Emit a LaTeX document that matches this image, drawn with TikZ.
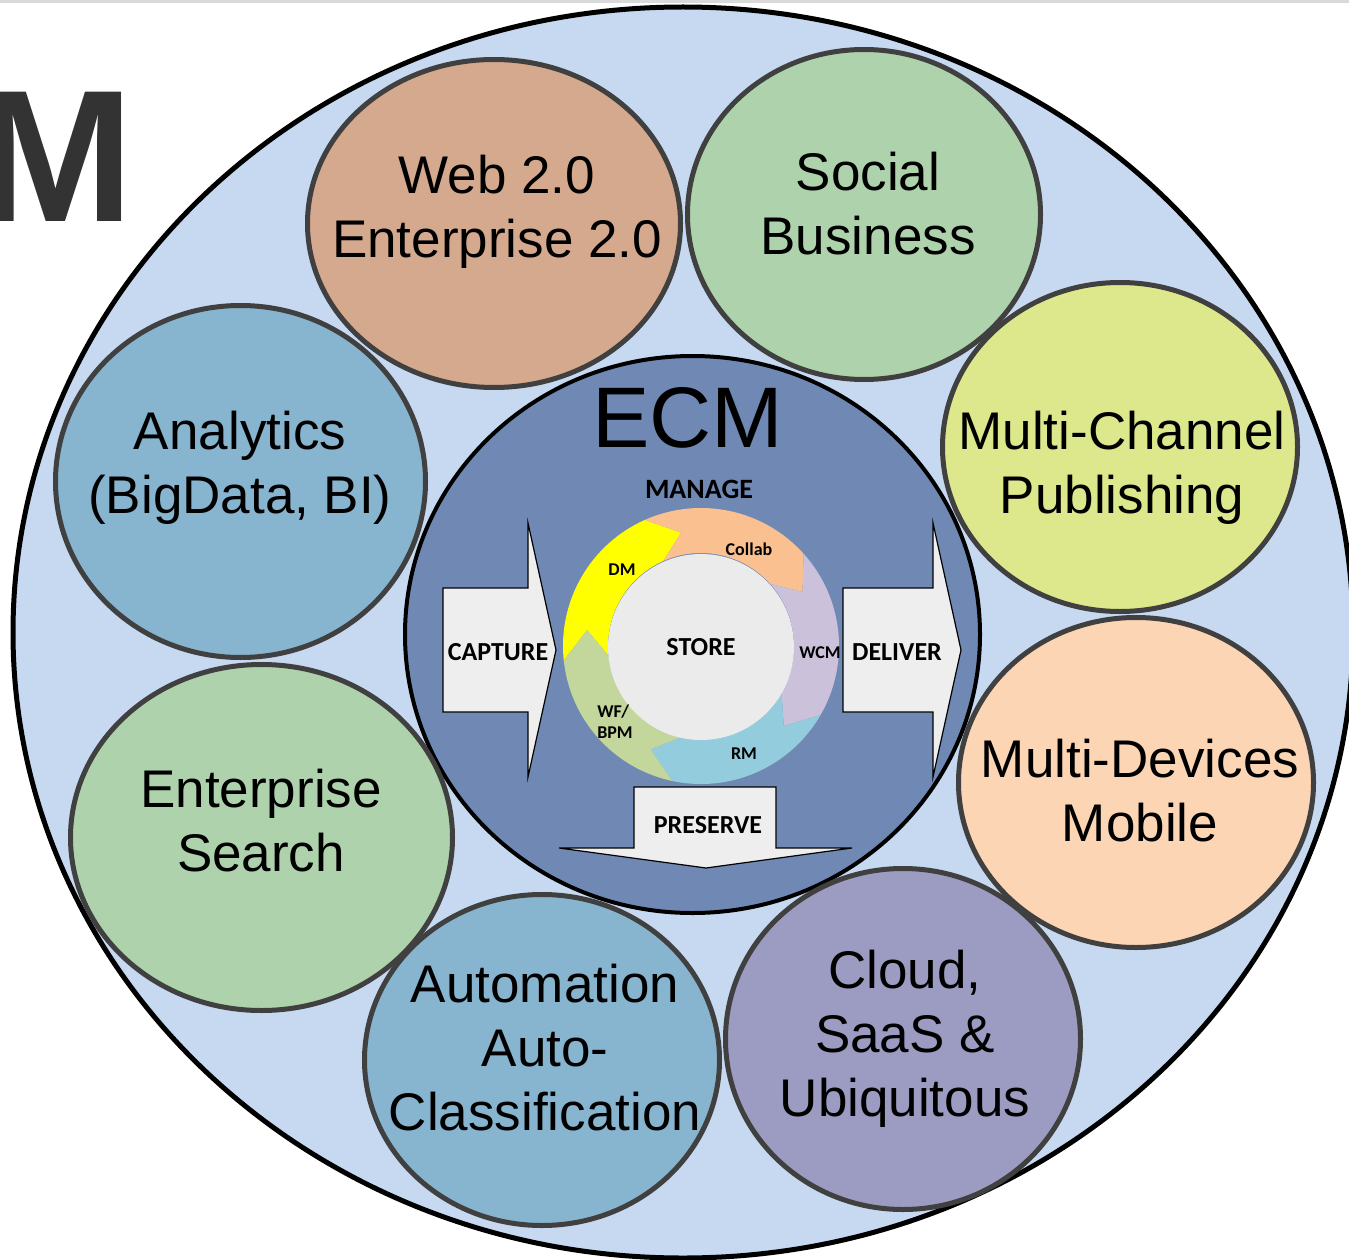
\documentclass[tikz,border=0pt]{standalone}
\usepackage{fontspec}
\setmainfont{Liberation Sans}
\newfontfamily\calibri{Carlito}
\usetikzlibrary{shapes}

\definecolor{topgray}{HTML}{D9D9D9}
\definecolor{outerblue}{HTML}{C6D9F0}
\definecolor{ecmblue}{HTML}{7089B4}
\definecolor{bubbleedge}{HTML}{404040}
\definecolor{webbrown}{HTML}{D4A98E}
\definecolor{sagegreen}{HTML}{AED3AC}
\definecolor{limegreen}{HTML}{DCE88B}
\definecolor{peach}{HTML}{FCD5B4}
\definecolor{lilac}{HTML}{9C9CC2}
\definecolor{steelblue}{HTML}{87B4CE}
\definecolor{arrowgray}{HTML}{EEEEEE}
\definecolor{storegray}{HTML}{EBEBEB}
\definecolor{dmyellow}{HTML}{FFFF00}
\definecolor{collaborange}{HTML}{FAC090}
\definecolor{wcmlilac}{HTML}{CCC1DA}
\definecolor{rmblue}{HTML}{93CDDD}
\definecolor{bpmgreen}{HTML}{C3D69B}
\definecolor{mgray}{HTML}{333333}

\begin{document}
\begin{tikzpicture}[x=1pt,y=-1pt,
  bubble/.style={shape=ellipse,draw=bubbleedge,line width=5pt,inner sep=0pt},
  bubbletext/.style={align=center,inner sep=0pt,font=\fontsize{53}{64}\selectfont},
  blockarrow/.style={fill=arrowgray,draw=black,line width=1.2pt},
  boldlabel/.style={inner sep=0pt,font=\calibri\bfseries\fontsize{26}{30}\selectfont},
  smalllabel/.style={inner sep=0pt,font=\calibri\bfseries\fontsize{18}{21}\selectfont}]
\useasboundingbox (0,0) rectangle (1349,1260);
\fill[topgray] (0,0) rectangle (1349,3);

\node[font=\bfseries\fontsize{188}{190}\selectfont,text=mgray,anchor=base east,inner sep=0pt] (mletter) at (134,222) {M};

\node[shape=ellipse,draw=black,line width=5pt,fill=outerblue,inner sep=0pt,minimum width=1340pt,minimum height=1251pt] (outer) at (683,632.5) {};
\node[shape=ellipse,draw=black,line width=4pt,fill=ecmblue,inner sep=0pt,minimum width=575pt,minimum height=557pt] (ecm) at (692.5,634.5) {};

% bubbles round the core
\node[bubble,fill=steelblue,minimum width=370pt,minimum height=352pt] (analytics) at (240.5,481.5) {};
\node[bubble,fill=sagegreen,minimum width=382pt,minimum height=346pt] (search) at (261.5,837.5) {};
\node[bubble,fill=steelblue,minimum width=355pt,minimum height=331pt] (autom) at (542,1060) {};
\node[bubble,fill=lilac,minimum width=355pt,minimum height=341pt] (cloud) at (903,1039) {};
\node[bubble,fill=peach,minimum width=355pt,minimum height=330pt] (devices) at (1136,782.5) {};
\node[bubble,fill=webbrown,minimum width=373pt,minimum height=328pt] (web) at (494,223.5) {};
\node[bubble,fill=sagegreen,minimum width=353pt,minimum height=330pt] (social) at (864,214.5) {};
\node[bubble,fill=limegreen,minimum width=355pt,minimum height=329pt] (channel) at (1120,447) {};

\node[bubbletext] (webtext) at (497,211.5) {Web 2.0\\Enterprise 2.0};
\node[bubbletext] (socialtext) at (868,204) {Social\\Business};
\node[bubbletext] (channeltext) at (1122,467.5) {Multi-Channel\\Publishing};
\node[bubbletext] (analyticstext) at (240,468) {Analytics\\(BigData, BI)};
\node[bubbletext] (devicestext) at (1140,791) {Multi-Devices\\Mobile};
\node[bubbletext] (searchtext) at (261,821) {Enterprise\\Search};
\node[bubbletext] (automtext) at (545,1048) {Automation\\Auto-\\Classification};
\node[bubbletext] (cloudtext) at (905,1038.5) {Cloud,\\SaaS \&\\Ubiquitous};

% core
\node[font=\fontsize{86}{90}\selectfont,anchor=base,inner sep=0pt] (ecmtitle) at (688,447) {ECM};
\node[boldlabel,font=\calibri\bfseries\fontsize{28}{32}\selectfont] (manage) at (699,489) {MANAGE};

\begin{scope}[shift={(701,646)}]
\fill[dmyellow] (186:138pt) arc[start angle=186,end angle=114,radius=138pt] -- (100:115pt) -- (114:93pt) arc[start angle=114,end angle=186,radius=93pt] -- (172:115pt) -- cycle;
\fill[collaborange] (114:138pt) arc[start angle=114,end angle=42,radius=138pt] -- (28:115pt) -- (42:93pt) arc[start angle=42,end angle=114,radius=93pt] -- (100:115pt) -- cycle;
\fill[wcmlilac] (42:138pt) arc[start angle=42,end angle=-30,radius=138pt] -- (-44:115pt) -- (-30:93pt) arc[start angle=-30,end angle=42,radius=93pt] -- (28:115pt) -- cycle;
\fill[rmblue] (-30:138pt) arc[start angle=-30,end angle=-102,radius=138pt] -- (-116:115pt) -- (-102:93pt) arc[start angle=-102,end angle=-30,radius=93pt] -- (-44:115pt) -- cycle;
\fill[bpmgreen] (-102:138pt) arc[start angle=-102,end angle=-174,radius=138pt] -- (-188:115pt) -- (-174:93pt) arc[start angle=-174,end angle=-102,radius=93pt] -- (-116:115pt) -- cycle;
\end{scope}
\node[shape=circle,fill=storegray,minimum size=186pt,inner sep=0pt,font=\calibri\bfseries\fontsize{26}{30}\selectfont] (store) at (701,647) {STORE};

\node[smalllabel] (dm) at (622,570) {DM};
\node[smalllabel] (collab) at (749,549) {Collab};
\node[smalllabel] (wcm) at (820,653) {WCM};
\node[smalllabel] (rm) at (744,754) {RM};
\node[smalllabel,align=left] (bpm) at (615,722) {WF/\\BPM};

% in and out arrows
\draw[blockarrow] (443,588) -- (528,588) -- (528,523) -- (556,650) -- (528,777) -- (528,712) -- (443,712) -- cycle;
\draw[blockarrow] (843,588) -- (933,588) -- (933,523) -- (961,650) -- (933,777) -- (933,712) -- (843,712) -- cycle;
\draw[blockarrow] (634,787) -- (776,787) -- (776,848) -- (852,848) -- (706,868) -- (559,848) -- (634,848) -- cycle;
\node[boldlabel] (capture) at (498,652) {CAPTURE};
\node[boldlabel] (deliver) at (897,652) {DELIVER};
\node[boldlabel] (preserve) at (708,825) {PRESERVE};
\end{tikzpicture}
\end{document}
